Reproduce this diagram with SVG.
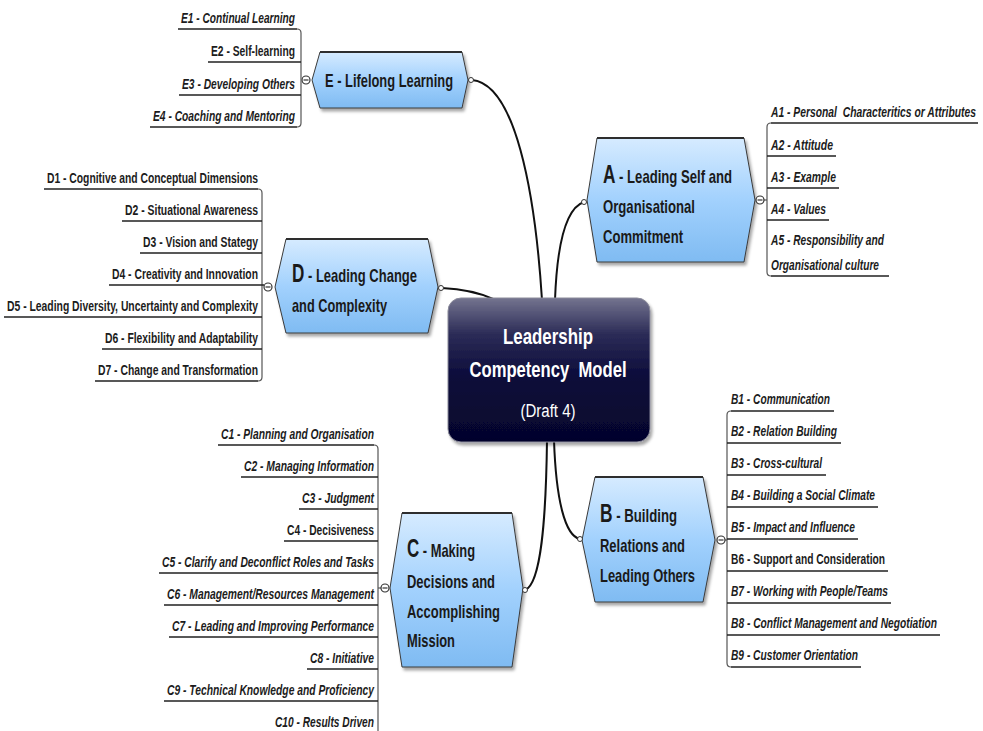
<svg xmlns="http://www.w3.org/2000/svg" width="983" height="731" viewBox="0 0 983 731">
  <defs>
    <linearGradient id="hexFill" x1="0" y1="0" x2="0" y2="1">
      <stop offset="0" stop-color="#d6ebff"/>
      <stop offset="0.5" stop-color="#a2d1fd"/>
      <stop offset="1" stop-color="#7fbbf2"/>
    </linearGradient>
    <linearGradient id="coreFill" x1="0" y1="0" x2="0" y2="1">
      <stop offset="0" stop-color="#74748f"/>
      <stop offset="0.25" stop-color="#2c2c57"/>
      <stop offset="0.55" stop-color="#0b0b3a"/>
      <stop offset="1" stop-color="#05052c"/>
    </linearGradient>
    <filter id="shadow" x="-10%" y="-10%" width="125%" height="130%">
      <feDropShadow dx="2" dy="3" stdDeviation="1.5" flood-color="#000" flood-opacity="0.35"/>
    </filter>
  </defs>
  <style>
    .leaf { font-family: "Liberation Sans", Arial, sans-serif; font-size: 14px; font-weight: bold; fill: #1c1c1c; }
    .it { font-style: italic; }
    .lbl { font-family: "Liberation Sans", Arial, sans-serif; font-size: 19px; font-weight: bold; fill: #1a1a1a; }
    .big { font-size: 25px; }
    .core { font-family: "Liberation Sans", Arial, sans-serif; fill: #ffffff; text-anchor: middle; }
    .hex { fill: url(#hexFill); stroke: #3a3a3a; stroke-width: 1; }
    .hexTop { stroke: #2e2e2e; stroke-width: 2; }
    .ul { stroke: #222; stroke-width: 1.5; fill: none; }
    .br { stroke: #555; stroke-width: 1.2; fill: none; }
    .link { stroke: #111; stroke-width: 2; fill: none; }
    .knob { fill: #fff; stroke: #333; stroke-width: 1.2; }
    .dot { fill: #fff; stroke: #333; stroke-width: 1; }
  </style>

  <rect width="983" height="731" fill="#ffffff"/>

  <!-- links from the central topic to the main branches -->
  <g id="connectors">
    <path class="link" d="M472,80 C515,84 535,190 542,300"/>
    <path class="link" d="M584,202 C566,208 557,245 555,300"/>
    <path class="link" d="M442,288 C462,289 478,292 493,299"/>
    <path class="link" d="M547,440 C546,520 541,584 525,590"/>
    <path class="link" d="M554,440 C556,500 565,536 580,539"/>
  </g>

  <!-- central topic -->
  <g id="core">
    <rect x="448" y="298" width="202" height="144" rx="13" fill="url(#coreFill)" stroke="#8a8a9a" stroke-width="1" filter="url(#shadow)"/>
    <text class="core" x="548" y="344" font-size="22" font-weight="bold" textLength="90" lengthAdjust="spacingAndGlyphs">Leadership</text>
    <text class="core" x="548" y="377" font-size="22" font-weight="bold" textLength="157" lengthAdjust="spacingAndGlyphs" xml:space="preserve">Competency  Model</text>
    <text class="core" x="548" y="417" font-size="18" textLength="55" lengthAdjust="spacingAndGlyphs">(Draft 4)</text>
  </g>

  <!-- E branch -->
  <g id="nodeE">
    <polygon class="hex" points="312,80 320,52 462,52 468,80 462,108 320,108" filter="url(#shadow)"/>
    <line class="hexTop" x1="320" y1="52" x2="462" y2="52"/>
    <text class="lbl" x="325" y="87" textLength="128" lengthAdjust="spacingAndGlyphs">E - Lifelong Learning</text>
    <circle class="dot" cx="471" cy="80" r="2.5"/>
    <circle class="knob" cx="306" cy="80" r="4"/>
    <line x1="303.5" y1="80" x2="308.5" y2="80" stroke="#333" stroke-width="1.2"/>
    <path class="br" d="M297,29 Q301,29 301,33 V123 Q301,127 297,127"/>
    <path class="ul" d="M178,29 H297 M208,62 H301 M179,95 H301 M150,127 H297"/>
    <text class="leaf it" x="181" y="23" textLength="114" lengthAdjust="spacingAndGlyphs">E1 - Continual Learning</text>
    <text class="leaf" x="211" y="56" textLength="84" lengthAdjust="spacingAndGlyphs">E2 - Self-learning</text>
    <text class="leaf it" x="182" y="89" textLength="113" lengthAdjust="spacingAndGlyphs">E3 - Developing Others</text>
    <text class="leaf it" x="153" y="121" textLength="142" lengthAdjust="spacingAndGlyphs">E4 - Coaching and Mentoring</text>
  </g>

  <!-- A branch -->
  <g id="nodeA">
    <polygon class="hex" points="587,200 597,138 744,138 755,200 744,262 597,262" filter="url(#shadow)"/>
    <line class="hexTop" x1="597" y1="138" x2="744" y2="138"/>
    <text class="lbl" x="603" y="183" textLength="129" lengthAdjust="spacingAndGlyphs"><tspan class="big">A</tspan> - Leading Self and</text>
    <text class="lbl" x="603" y="213" textLength="92" lengthAdjust="spacingAndGlyphs">Organisational</text>
    <text class="lbl" x="603" y="243" textLength="80" lengthAdjust="spacingAndGlyphs">Commitment</text>
    <circle class="dot" cx="584" cy="202" r="2.5"/>
    <circle class="knob" cx="760" cy="200" r="4"/>
    <line x1="757.5" y1="200" x2="762.5" y2="200" stroke="#333" stroke-width="1.2"/>
    <line x1="764" y1="200" x2="767" y2="200" stroke="#333" stroke-width="1"/>
    <path class="br" d="M771,123 Q767,123 767,127 V272 Q767,276 771,276"/>
    <path class="ul" d="M771,123 H978 M767,156 H836 M767,188 H839 M767,220 H829 M771,276 H889"/>
    <text class="leaf it" x="771" y="117" textLength="205" lengthAdjust="spacingAndGlyphs" xml:space="preserve">A1 - Personal  Characteritics or Attributes</text>
    <text class="leaf it" x="771" y="150" textLength="62" lengthAdjust="spacingAndGlyphs">A2 - Attitude</text>
    <text class="leaf it" x="771" y="182" textLength="65" lengthAdjust="spacingAndGlyphs">A3 - Example</text>
    <text class="leaf it" x="771" y="214" textLength="55" lengthAdjust="spacingAndGlyphs">A4 - Values</text>
    <text class="leaf it" x="771" y="245" textLength="113" lengthAdjust="spacingAndGlyphs">A5 - Responsibility and</text>
    <text class="leaf it" x="771" y="270" textLength="108" lengthAdjust="spacingAndGlyphs">Organisational culture</text>
  </g>

  <!-- D branch -->
  <g id="nodeD">
    <polygon class="hex" points="275,287 286,239 428,239 438,287 428,333 286,333" filter="url(#shadow)"/>
    <line class="hexTop" x1="286" y1="239" x2="428" y2="239"/>
    <text class="lbl" x="292" y="282" textLength="125" lengthAdjust="spacingAndGlyphs"><tspan class="big">D</tspan> - Leading Change</text>
    <text class="lbl" x="292" y="312" textLength="95" lengthAdjust="spacingAndGlyphs">and Complexity</text>
    <circle class="dot" cx="441" cy="288" r="2.5"/>
    <circle class="knob" cx="268" cy="287" r="4"/>
    <line x1="265.5" y1="287" x2="270.5" y2="287" stroke="#333" stroke-width="1.2"/>
    <path class="br" d="M258,189 Q262,189 262,193 V377 Q262,381 258,381"/>
    <path class="ul" d="M44,189 H258 M122,221 H262 M140,253 H262 M109,285 H264 M4,317 H262 M102,349 H262 M95,381 H258"/>
    <text class="leaf" x="47" y="183" textLength="211" lengthAdjust="spacingAndGlyphs">D1 - Cognitive and Conceptual Dimensions</text>
    <text class="leaf" x="125" y="215" textLength="133" lengthAdjust="spacingAndGlyphs">D2 - Situational Awareness</text>
    <text class="leaf" x="143" y="247" textLength="115" lengthAdjust="spacingAndGlyphs">D3 - Vision and Stategy</text>
    <text class="leaf" x="112" y="279" textLength="146" lengthAdjust="spacingAndGlyphs">D4 - Creativity and Innovation</text>
    <text class="leaf" x="7" y="311" textLength="251" lengthAdjust="spacingAndGlyphs">D5 - Leading Diversity, Uncertainty and Complexity</text>
    <text class="leaf" x="105" y="343" textLength="153" lengthAdjust="spacingAndGlyphs">D6 - Flexibility and Adaptability</text>
    <text class="leaf" x="98" y="375" textLength="160" lengthAdjust="spacingAndGlyphs">D7 - Change and Transformation</text>
  </g>

  <!-- B branch -->
  <g id="nodeB">
    <polygon class="hex" points="582,540 595,477 703,477 715,540 703,602 595,602" filter="url(#shadow)"/>
    <line class="hexTop" x1="595" y1="477" x2="703" y2="477"/>
    <text class="lbl" x="600" y="522" textLength="77" lengthAdjust="spacingAndGlyphs"><tspan class="big">B</tspan> - Building</text>
    <text class="lbl" x="600" y="552" textLength="85" lengthAdjust="spacingAndGlyphs">Relations and</text>
    <text class="lbl" x="600" y="582" textLength="95" lengthAdjust="spacingAndGlyphs">Leading Others</text>
    <circle class="dot" cx="580" cy="539" r="2.5"/>
    <circle class="knob" cx="721" cy="540" r="4"/>
    <line x1="718.5" y1="540" x2="723.5" y2="540" stroke="#333" stroke-width="1.2"/>
    <line x1="725" y1="540" x2="727" y2="540" stroke="#333" stroke-width="1"/>
    <path class="br" d="M731,411 Q727,411 727,415 V663 Q727,667 731,667"/>
    <path class="ul" d="M731,411 H834 M727,443 H841 M727,475 H826 M727,507 H878 M727,539 H858 M727,571 H888 M727,603 H891 M727,635 H940 M731,667 H861"/>
    <text class="leaf it" x="731" y="404" textLength="99" lengthAdjust="spacingAndGlyphs">B1 - Communication</text>
    <text class="leaf it" x="731" y="436" textLength="106" lengthAdjust="spacingAndGlyphs">B2 - Relation Building</text>
    <text class="leaf it" x="731" y="468" textLength="91" lengthAdjust="spacingAndGlyphs">B3 - Cross-cultural</text>
    <text class="leaf it" x="731" y="500" textLength="144" lengthAdjust="spacingAndGlyphs">B4 - Building a Social Climate</text>
    <text class="leaf it" x="731" y="532" textLength="124" lengthAdjust="spacingAndGlyphs">B5 - Impact and Influence</text>
    <text class="leaf" x="731" y="564" textLength="154" lengthAdjust="spacingAndGlyphs">B6 - Support and Consideration</text>
    <text class="leaf it" x="731" y="596" textLength="157" lengthAdjust="spacingAndGlyphs">B7 - Working with People/Teams</text>
    <text class="leaf it" x="731" y="628" textLength="206" lengthAdjust="spacingAndGlyphs">B8 - Conflict Management and Negotiation</text>
    <text class="leaf it" x="731" y="660" textLength="127" lengthAdjust="spacingAndGlyphs">B9 - Customer Orientation</text>
  </g>

  <!-- C branch -->
  <g id="nodeC">
    <polygon class="hex" points="390,588 402,513 512,513 523,588 512,667 402,667" filter="url(#shadow)"/>
    <line class="hexTop" x1="402" y1="513" x2="512" y2="513"/>
    <text class="lbl" x="407" y="557" textLength="68" lengthAdjust="spacingAndGlyphs"><tspan class="big">C</tspan> - Making</text>
    <text class="lbl" x="407" y="588" textLength="88" lengthAdjust="spacingAndGlyphs">Decisions and</text>
    <text class="lbl" x="407" y="618" textLength="93" lengthAdjust="spacingAndGlyphs">Accomplishing</text>
    <text class="lbl" x="407" y="647" textLength="48" lengthAdjust="spacingAndGlyphs">Mission</text>
    <circle class="dot" cx="525" cy="590" r="2.5"/>
    <circle class="knob" cx="385" cy="588" r="4"/>
    <line x1="382.5" y1="588" x2="387.5" y2="588" stroke="#333" stroke-width="1.2"/>
    <line x1="378" y1="588" x2="381" y2="588" stroke="#333" stroke-width="1"/>
    <path class="br" d="M374,445 Q378,445 378,449 V740"/>
    <path class="ul" d="M218,445 H374 M241,477 H378 M299,509 H378 M284,541 H378 M159,573 H378 M164,605 H378 M169,637 H378 M307,669 H378 M164,701 H378 M272,733 H378"/>
    <text class="leaf it" x="221" y="439" textLength="153" lengthAdjust="spacingAndGlyphs">C1 - Planning and Organisation</text>
    <text class="leaf it" x="244" y="471" textLength="130" lengthAdjust="spacingAndGlyphs">C2 - Managing Information</text>
    <text class="leaf it" x="302" y="503" textLength="72" lengthAdjust="spacingAndGlyphs">C3 - Judgment</text>
    <text class="leaf" x="287" y="535" textLength="87" lengthAdjust="spacingAndGlyphs">C4 - Decisiveness</text>
    <text class="leaf it" x="162" y="567" textLength="212" lengthAdjust="spacingAndGlyphs">C5 - Clarify and Deconflict Roles and Tasks</text>
    <text class="leaf it" x="167" y="599" textLength="207" lengthAdjust="spacingAndGlyphs">C6 - Management/Resources Management</text>
    <text class="leaf it" x="172" y="631" textLength="202" lengthAdjust="spacingAndGlyphs">C7 - Leading and Improving Performance</text>
    <text class="leaf it" x="310" y="663" textLength="64" lengthAdjust="spacingAndGlyphs">C8 - Initiative</text>
    <text class="leaf it" x="167" y="695" textLength="207" lengthAdjust="spacingAndGlyphs">C9 - Technical Knowledge and Proficiency</text>
    <text class="leaf it" x="275" y="727" textLength="99" lengthAdjust="spacingAndGlyphs">C10 - Results Driven</text>
  </g>
</svg>
